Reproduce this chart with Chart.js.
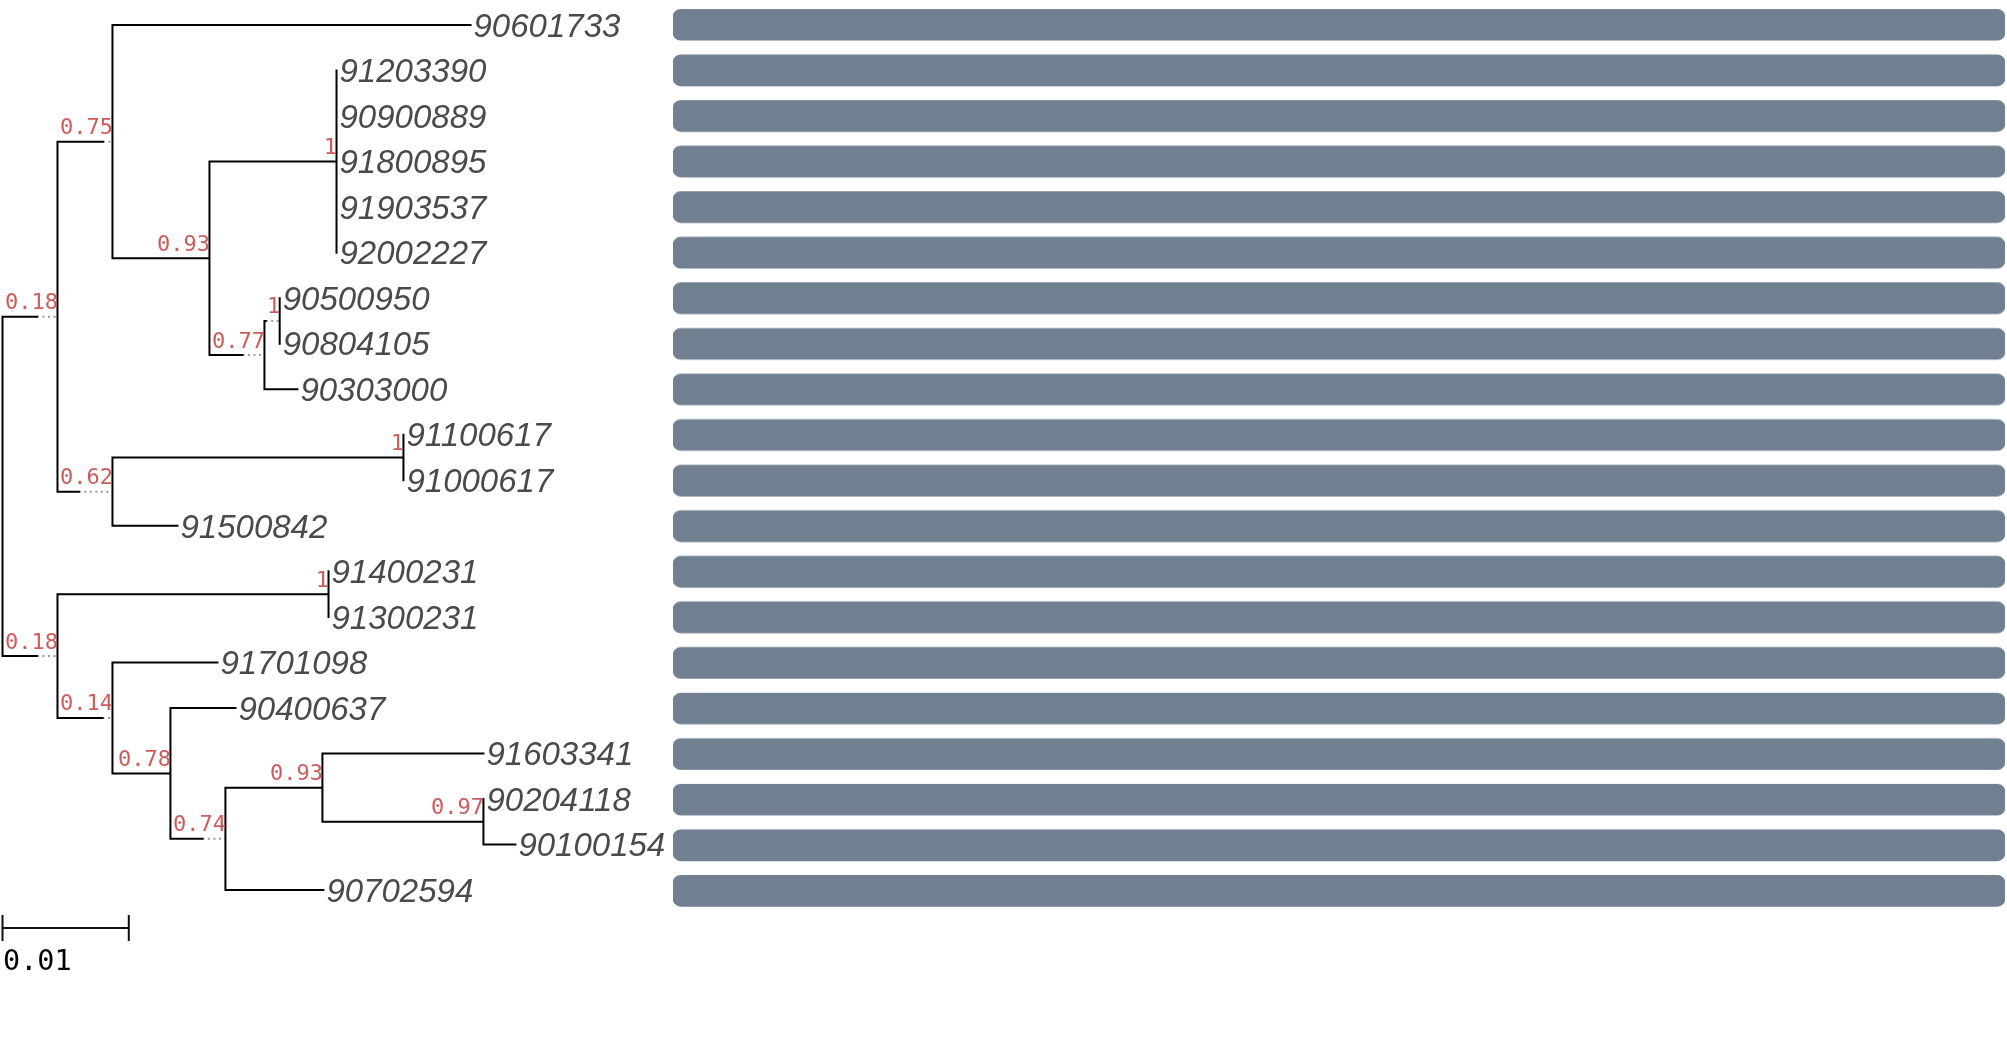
<!DOCTYPE html>
<html>
<head>
<meta charset="utf-8">
<script src="https://cdn.jsdelivr.net/npm/chart.js@4.4.1/dist/chart.umd.min.js"></script>
<style>
  html, body { margin: 0; padding: 0; background: #fff; overflow: hidden; }
  #tree-box { position: absolute; left: 0; top: 0; width: 2007px; height: 1041px; }
  #bars-box { position: absolute; left: 673px; top: 2.2px; width: 1332px; height: 910.6px; }
</style>
</head>
<body>
<div id="tree-box"><canvas id="treeChart"></canvas></div>
<div id="bars-box"><canvas id="barChart"></canvas></div>
<script>
// tree in preorder: name, parent index, branch length, support
const nodeNames = [
  '', '', '', '90601733', '', '', '91203390', '90900889', '91800895', '91903537',
  '92002227', '', '', '90500950', '90804105', '90303000', '', '', '91100617', '91000617',
  '91500842', '', '', '91400231', '91300231', '', '91701098', '', '90400637', '',
  '', '91603341', '', '90204118', '90100154', '90702594'
];
const nodeParents = [
  -1, 0, 1, 2, 2, 4, 5, 5, 5, 5,
  5, 4, 11, 12, 12, 11, 1, 16, 17, 17,
  16, 0, 21, 22, 22, 21, 25, 25, 27, 27,
  29, 30, 30, 32, 32, 29
];
const branchLengths = [
  0, 0.00273, 0.00359, 0.02835, 0.00768, 0.01006, 0, 0, 0, 0,
  0, 0.00261, 0.0001, 0, 0, 0.00261, 0.00169, 0.02304, 0, 0,
  0.00515, 0.00273, 0.02146, 0, 0, 0.00356, 0.00831, 0.00459, 0.00515, 0.00253,
  0.00768, 0.01275, 0.01275, 0, 0.00253, 0.00776
];
const supportValues = [
  null, 0.18, 0.75, null, 0.93, 1, null, null, null, null,
  null, 0.77, 1, null, null, null, 0.62, 1, null, null,
  null, 0.18, 1, null, null, 0.14, null, 0.78, null, 0.74,
  0.93, null, 0.97, null, null, null
];
// one full-width bar per leaf
const barValues = [1, 1, 1, 1, 1, 1, 1, 1, 1, 1, 1, 1, 1, 1, 1, 1, 1, 1, 1, 1];
const scaleBarLength = 0.01;
const scaleBarLabel = '0.01';

const PX_PER_UNIT = 12630;
const ROW_PX = 45.53;
const ROOT_X_PX = 2.5;
const TOP_ROW_PX = 25;
const CANVAS_W = 2007;
const CANVAS_H = 1041;
const SUPPORT_FONT = '22px "DejaVu Sans Mono"';
const LEAF_FONT = 'italic 33px "Liberation Sans"';
const SCALE_FONT = '28.5px "DejaVu Sans Mono"';

const measureCtx = document.createElement('canvas').getContext('2d');
measureCtx.font = SUPPORT_FONT;

const children = nodeNames.map(() => []);
nodeParents.forEach((p, i) => { if (p >= 0) children[p].push(i); });

const nodeX = [], nodeY = [], solidEnd = [];
let leafRow = 0;
function place(i) {
  const p = nodeParents[i];
  const px = p >= 0 ? nodeX[p] : 0;
  let len = branchLengths[i];
  solidEnd[i] = px + len;
  if (supportValues[i] !== null) {
    // branch is stretched (dotted) when the support text is wider than it
    const w = (measureCtx.measureText(String(supportValues[i])).width + 2) / PX_PER_UNIT;
    len = Math.max(len, w);
  }
  nodeX[i] = px + len;
  const c = children[i];
  if (c.length === 0) {
    nodeY[i] = leafRow++;
  } else {
    c.forEach(place);
    nodeY[i] = (nodeY[c[0]] + nodeY[c[c.length - 1]]) / 2;
  }
}
place(0);

const GAP = { x: 0, y: null };
const solidPts = [], dottedPts = [];
nodeNames.forEach((n, i) => {
  const p = nodeParents[i];
  if (p >= 0) {
    solidPts.push({ x: nodeX[p], y: nodeY[i] }, { x: solidEnd[i], y: nodeY[i] }, GAP);
    if (nodeX[i] - solidEnd[i] > 1e-7) {
      dottedPts.push({ x: solidEnd[i], y: nodeY[i] }, { x: nodeX[i], y: nodeY[i] }, GAP);
    }
  }
  const c = children[i];
  if (c.length) {
    solidPts.push({ x: nodeX[i], y: nodeY[c[0]] }, { x: nodeX[i], y: nodeY[c[c.length - 1]] }, GAP);
  }
});

const scaleRow = (928 - TOP_ROW_PX) / ROW_PX;
const tickHalf = 13 / ROW_PX;
const scalePts = [
  { x: 0, y: scaleRow }, { x: scaleBarLength, y: scaleRow }, GAP,
  { x: 0, y: scaleRow - tickHalf }, { x: 0, y: scaleRow + tickHalf }, GAP,
  { x: scaleBarLength, y: scaleRow - tickHalf }, { x: scaleBarLength, y: scaleRow + tickHalf }
];

const xMin = -ROOT_X_PX / PX_PER_UNIT;
const yMin = -TOP_ROW_PX / ROW_PX;

const treeText = {
  id: 'treeText',
  afterDatasetsDraw(chart) {
    const { ctx, scales: { x, y } } = chart;
    ctx.save();
    ctx.textBaseline = 'alphabetic';
    nodeNames.forEach((name, i) => {
      const px = x.getPixelForValue(nodeX[i]);
      const py = y.getPixelForValue(nodeY[i]);
      if (name) {
        ctx.font = LEAF_FONT;
        ctx.fillStyle = '#4a4a4a';
        ctx.textAlign = 'left';
        ctx.fillText(name, px + 3, py + 11.7);
      }
      if (supportValues[i] !== null) {
        ctx.font = SUPPORT_FONT;
        ctx.fillStyle = '#cd5c5c';
        ctx.textAlign = 'right';
        ctx.fillText(String(supportValues[i]), px + 0.5, py - 7.5);
      }
    });
    ctx.font = SCALE_FONT;
    ctx.fillStyle = '#000';
    ctx.textAlign = 'left';
    ctx.fillText(scaleBarLabel, x.getPixelForValue(0) + 0.5, y.getPixelForValue(scaleRow) + 42);
    ctx.restore();
  }
};

new Chart(document.getElementById('treeChart').getContext('2d'), {
  type: 'scatter',
  data: {
    datasets: [
      { label: 'branches', data: solidPts, showLine: true, borderColor: '#000', borderWidth: 2,
        borderCapStyle: 'square', pointRadius: 0, spanGaps: false },
      { label: 'extension', data: dottedPts, showLine: true, borderColor: '#999', borderWidth: 2,
        borderDash: [2, 3.5], pointRadius: 0, spanGaps: false },
      { label: 'scale', data: scalePts, showLine: true, borderColor: '#111', borderWidth: 2,
        pointRadius: 0, spanGaps: false }
    ]
  },
  options: {
    responsive: true,
    maintainAspectRatio: false,
    animation: false,
    events: [],
    layout: { padding: 0 },
    plugins: { legend: { display: false }, tooltip: { enabled: false } },
    scales: {
      x: { type: 'linear', display: false, min: xMin, max: xMin + CANVAS_W / PX_PER_UNIT },
      y: { type: 'linear', display: false, reverse: true, min: yMin, max: yMin + CANVAS_H / ROW_PX }
    }
  },
  plugins: [treeText]
});

const leafNames = nodeNames.filter((n, i) => children[i].length === 0);

new Chart(document.getElementById('barChart').getContext('2d'), {
  type: 'bar',
  data: {
    labels: leafNames,
    datasets: [{
      label: 'bars',
      data: barValues,
      backgroundColor: '#708090',
      borderWidth: 0,
      borderRadius: 8,
      borderSkipped: false,
      barThickness: 31
    }]
  },
  options: {
    indexAxis: 'y',
    responsive: true,
    maintainAspectRatio: false,
    animation: false,
    events: [],
    layout: { padding: 0 },
    plugins: { legend: { display: false }, tooltip: { enabled: false } },
    scales: {
      x: { display: false, min: 0, max: 1 },
      y: { display: false }
    }
  }
});
</script>
</body>
</html>
